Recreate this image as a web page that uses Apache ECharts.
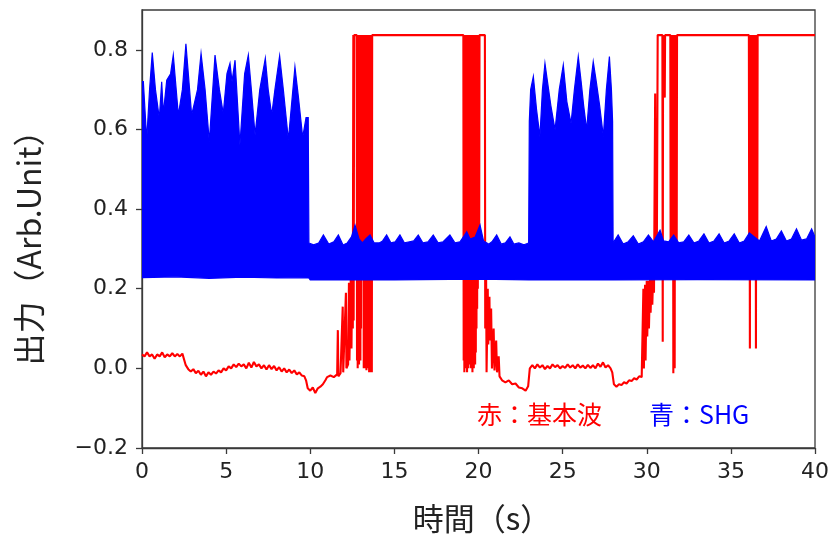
<!DOCTYPE html>
<html>
<head>
<meta charset="utf-8">
<script src="https://cdn.jsdelivr.net/npm/echarts@6/dist/echarts.min.js"></script>
<style>
html,body{margin:0;padding:0;background:#fff;}
#chart{width:833px;height:539px;}
</style>
</head>
<body>
<div id="chart"></div>
<script>
// ---- tick labels ----
const xTicks = [0, 5, 10, 15, 20, 25, 30, 35, 40];
const yTicks = [-0.2, 0.0, 0.2, 0.4, 0.6, 0.8];

// ---- texts ----
const xTitle = '時間（s）';
const yTitle = '出力（Arb.Unit）';
const redLabel = '赤：基本波';
const blueLabel = '青：SHG';

// ---- red: fundamental wave [time s, output] ----
const redSignal = [
[0.0,0.035],[0.15,0.03],[0.3,0.04],[0.45,0.03],[0.6,0.035],[0.75,0.024],[0.9,0.035],[1.05,0.03],[1.2,0.04],[1.35,0.028],
[1.5,0.035],[1.65,0.03],[1.8,0.038],[1.95,0.03],[2.1,0.036],[2.25,0.03],[2.4,0.037],[2.5,0.032],
[2.6,0.008],[2.75,-0.002],[2.9,-0.008],[3.05,-0.002],[3.2,-0.012],[3.35,-0.006],[3.5,-0.016],[3.65,-0.008],[3.8,-0.02],[3.95,-0.01],
[4.1,-0.016],[4.25,-0.008],[4.4,-0.013],[4.55,-0.005],[4.7,-0.01],[4.85,0.0],[5.0,-0.005],[5.15,0.005],[5.3,0.0],[5.45,0.01],
[5.6,0.003],[5.75,0.012],[5.9,0.005],[6.05,0.01],[6.2,0.0],[6.35,0.014],[6.5,0.002],[6.65,0.016],[6.8,0.005],[6.95,0.01],
[7.1,0.0],[7.25,0.008],[7.4,-0.003],[7.55,0.008],[7.7,-0.002],[7.85,0.006],[8.0,-0.005],[8.15,0.003],[8.3,-0.008],[8.45,0.0],
[8.6,-0.01],[8.75,-0.003],[8.9,-0.012],[9.05,-0.005],[9.2,-0.015],[9.35,-0.01],[9.5,-0.018],[9.65,-0.02],[9.75,-0.03],
[9.85,-0.05],[10.0,-0.056],[10.15,-0.048],[10.3,-0.062],[10.45,-0.05],[10.6,-0.046],[10.75,-0.04],[10.9,-0.03],[11.0,-0.022],
[11.2,-0.018],[11.4,-0.022],[11.6,-0.015],[11.64,0.096],[11.67,-0.02],[11.8,-0.012],[11.93,0.155],[11.96,-0.01],[12.05,-0.005],
[12.12,0.19],[12.15,0.0],[12.25,0.01],[12.3,0.215],[12.33,0.02],[12.42,0.26],[12.45,0.05],[12.5,0.3],[12.53,0.1],
[12.56,0.837],[12.58,0.12],[12.61,0.837],[12.76,0.837],
[12.78,0.02],[12.8,0.837],[12.82,0.0],[12.84,0.837],[12.86,0.03],[12.88,0.837],[12.9,0.01],[12.92,0.837],[12.94,0.05],
[12.96,0.837],[12.98,0.02],[13.0,0.837],[13.02,0.1],[13.04,0.837],[13.06,0.29],[13.08,0.77],[13.1,0.29],[13.12,0.77],
[13.14,0.29],[13.16,0.837],[13.18,0.0],[13.2,0.837],[13.22,0.02],[13.24,0.837],[13.26,0.0],[13.28,0.837],[13.3,0.03],
[13.32,0.837],[13.34,-0.005],[13.36,0.837],[13.38,0.02],[13.4,0.837],[13.42,0.0],[13.44,0.837],[13.46,0.01],[13.48,0.837],
[13.5,-0.01],[13.52,0.837],[13.54,0.02],[13.56,0.837],[13.58,-0.01],[13.6,0.837],[13.62,0.01],[13.64,0.837],[13.66,-0.01],
[13.68,0.837],
[19.1,0.837],[19.12,0.02],[19.14,0.837],[19.16,-0.01],[19.18,0.837],[19.2,0.03],[19.22,0.837],[19.24,0.0],[19.26,0.837],
[19.28,0.04],[19.3,0.837],[19.32,-0.01],[19.34,0.837],[19.36,0.02],[19.38,0.837],[19.4,0.0],[19.42,0.837],[19.44,0.05],
[19.46,0.837],[19.48,0.01],[19.5,0.837],[19.52,0.03],[19.54,0.837],[19.56,0.0],[19.58,0.837],[19.6,0.02],[19.62,0.837],
[19.64,-0.01],[19.66,0.837],[19.68,0.03],[19.7,0.837],[19.72,0.0],[19.74,0.837],[19.76,0.02],[19.78,0.837],[19.8,0.01],
[19.82,0.837],[19.84,0.04],[19.86,0.837],[19.88,0.1],[19.9,0.837],[19.92,0.15],[19.94,0.837],[19.96,0.2],[19.98,0.837],
[20.0,0.25],[20.02,0.837],[20.04,0.3],[20.06,0.837],
[20.38,0.837],[20.4,0.1],[20.45,0.25],
[20.48,-0.01],[20.55,0.2],[20.58,0.06],[20.65,0.18],[20.68,0.07],[20.75,0.15],[20.8,0.0],[20.9,0.1],[20.95,-0.005],
[21.05,0.07],[21.1,-0.01],[21.2,0.03],[21.25,-0.02],
[21.4,-0.03],[21.6,-0.035],[21.8,-0.03],[22.0,-0.04],[22.2,-0.038],[22.4,-0.048],[22.6,-0.05],[22.8,-0.056],[22.95,-0.045],
[23.05,0.0],[23.2,0.008],[23.35,0.0],[23.5,0.01],[23.65,0.002],[23.8,0.008],[23.95,-0.002],[24.1,0.006],[24.25,0.0],
[24.4,0.01],[24.55,0.003],[24.7,0.008],[24.85,0.0],[25.0,0.006],[25.15,0.001],[25.3,0.01],[25.45,0.002],[25.6,0.008],
[25.75,0.0],[25.9,0.01],[26.05,0.002],[26.2,0.007],[26.35,0.0],[26.5,0.009],[26.65,0.001],[26.8,0.008],[26.95,0.0],
[27.1,0.012],[27.25,0.004],[27.4,0.015],[27.55,0.002],[27.7,0.008],[27.85,0.0],[27.95,-0.01],
[28.05,-0.04],[28.2,-0.046],[28.35,-0.04],[28.5,-0.042],[28.65,-0.035],[28.8,-0.038],[28.95,-0.03],[29.1,-0.032],
[29.25,-0.025],[29.4,-0.028],[29.55,-0.02],[29.7,-0.022],[29.78,-0.02],
[29.8,0.2],[29.83,0.0],[29.9,0.21],[29.93,0.02],[30.0,0.22],[30.03,0.08],[30.1,0.22],[30.13,0.1],[30.2,0.23],[30.23,0.14],
[30.3,0.25],[30.33,0.16],[30.4,0.26],[30.43,0.19],[30.5,0.69],[30.53,0.25],[30.6,0.3],[30.65,0.837],
[30.93,0.837],[30.95,0.067],[30.97,0.837],[31.05,0.837],[31.07,0.68],[31.09,0.837],
[31.4,0.837],[31.42,0.3],[31.44,0.837],[31.46,0.28],[31.48,0.837],[31.5,0.3],[31.52,0.837],[31.54,0.25],[31.56,0.837],
[31.58,-0.012],[31.6,0.837],[31.62,0.3],[31.64,0.837],[31.66,0.0],[31.68,0.837],[31.7,0.3],[31.72,0.837],[31.74,0.28],
[31.76,0.837],[31.78,0.3],[31.8,0.837],
[36.07,0.837],[36.09,0.3],[36.11,0.837],[36.13,0.05],[36.15,0.837],[36.17,0.3],[36.19,0.837],[36.21,0.64],[36.23,0.837],
[36.25,0.3],[36.27,0.837],[36.29,0.28],[36.31,0.837],[36.33,0.3],[36.35,0.837],[36.37,0.28],[36.39,0.837],[36.41,0.3],
[36.43,0.837],[36.45,0.3],[36.47,0.837],[36.49,0.05],[36.51,0.837],[36.53,0.3],[36.55,0.837],[36.57,0.3],[36.59,0.837],
[40.0,0.837]
];

// ---- blue: SHG, upper envelope of the dense oscillation [time s, output] ----
const blueTop = [
[0.0,0.72],[0.08,0.72],[0.28,0.574],[0.45,0.70],[0.61,0.793],[0.8,0.70],[1.03,0.628],[1.17,0.72],[1.27,0.64],[1.47,0.724],
[1.7,0.74],[1.86,0.787],[2.16,0.636],[2.4,0.70],[2.61,0.815],[2.95,0.636],[3.3,0.70],[3.51,0.791],[3.75,0.70],[4.0,0.569],
[4.34,0.787],[4.6,0.70],[4.83,0.64],[5.05,0.74],[5.23,0.766],[5.35,0.72],[5.53,0.774],[5.82,0.561],[6.1,0.74],[6.32,0.787],
[6.5,0.70],[6.72,0.586],[7.0,0.70],[7.33,0.779],[7.5,0.70],[7.71,0.636],[7.9,0.70],[8.18,0.785],[8.4,0.70],[8.7,0.574],
[9.09,0.757],[9.3,0.68],[9.55,0.58],[9.75,0.63],[9.88,0.63],
[9.92,0.315],[10.2,0.31],[10.5,0.315],[10.78,0.335],[11.1,0.312],[11.4,0.318],[11.67,0.335],[11.95,0.31],[12.2,0.315],
[12.45,0.33],[12.66,0.36],[12.9,0.325],[13.1,0.315],[13.3,0.325],[13.55,0.335],[13.8,0.315],[14.1,0.315],[14.3,0.32],
[14.54,0.335],[14.8,0.315],[15.05,0.318],[15.33,0.335],[15.6,0.315],[15.9,0.318],[16.15,0.32],[16.42,0.335],[16.7,0.315],
[17.0,0.318],[17.31,0.335],[17.6,0.315],[17.9,0.318],[18.3,0.335],[18.6,0.315],[18.9,0.318],[19.1,0.33],[19.3,0.343],
[19.5,0.325],[19.8,0.33],[20.09,0.36],[20.3,0.32],[20.6,0.312],[20.8,0.318],[21.08,0.335],[21.35,0.312],[21.6,0.315],
[21.87,0.33],[22.1,0.312],[22.4,0.315],[22.7,0.31],[22.98,0.315],
[23.02,0.62],[23.1,0.70],[23.26,0.733],[23.45,0.65],[23.65,0.582],[23.8,0.70],[23.95,0.766],[24.1,0.72],[24.3,0.66],
[24.55,0.599],[24.8,0.70],[25.04,0.762],[25.25,0.67],[25.5,0.615],[25.7,0.70],[25.93,0.783],[26.1,0.72],[26.25,0.66],
[26.43,0.599],[26.62,0.70],[26.82,0.77],[27.0,0.72],[27.2,0.66],[27.42,0.582],[27.6,0.70],[27.78,0.783],[27.9,0.70],[27.97,0.62],
[28.0,0.315],[28.3,0.335],[28.6,0.312],[28.9,0.318],[29.2,0.333],[29.5,0.312],[29.8,0.318],[30.1,0.335],[30.4,0.318],
[30.79,0.347],[31.0,0.32],[31.3,0.318],[31.6,0.335],[31.9,0.315],[32.2,0.318],[32.5,0.335],[32.8,0.315],[33.1,0.32],
[33.4,0.338],[33.7,0.315],[34.0,0.32],[34.3,0.338],[34.6,0.315],[34.9,0.32],[35.2,0.338],[35.5,0.315],[35.8,0.32],
[36.1,0.34],[36.4,0.33],[36.7,0.32],[37.1,0.356],[37.4,0.32],[37.7,0.325],[38.0,0.345],[38.3,0.32],[38.6,0.325],
[38.9,0.35],[39.2,0.322],[39.5,0.325],[39.8,0.35],[40.0,0.33]
];

// ---- blue: SHG, lower envelope (floor) [time s, output] ----
const blueFloor = [
[0.0,0.228],[2.0,0.23],[4.0,0.226],[6.0,0.229],[8.0,0.227],[9.9,0.228],[10.0,0.222],[15.0,0.222],[20.0,0.224],
[23.0,0.222],[28.0,0.222],[33.0,0.223],[40.0,0.222]
];

const tickFont = 'DejaVu Sans';
const cjkFont = '"Noto Sans CJK JP", "Noto Sans", sans-serif';
const frameColor = '#3a3a3a';

const chart = echarts.init(document.getElementById('chart'), null, {renderer: 'canvas'});

function fmtY(v) {
  const s = Math.abs(v).toFixed(1);
  return v < -1e-9 ? '\u2212' + s : s;
}

const option = {
  animation: false,
  backgroundColor: '#fff',
  grid: {
    left: 142, right: 18, top: 10, bottom: 91,
    show: true, borderColor: frameColor, borderWidth: 1.3, backgroundColor: 'transparent'
  },
  xAxis: {
    type: 'value', min: 0, max: 40, interval: 5,
    axisLine: {show: true, onZero: false, lineStyle: {color: frameColor, width: 1.3}},
    axisTick: {show: true, length: 6, lineStyle: {color: frameColor, width: 1.3}, customValues: xTicks},
    axisLabel: {show: true, customValues: xTicks, fontFamily: tickFont, fontSize: 22, color: '#222', margin: 13},
    splitLine: {show: false}
  },
  yAxis: {
    type: 'value', min: -0.2, max: 0.9,
    axisLine: {show: true, onZero: false, lineStyle: {color: frameColor, width: 1.3}},
    axisTick: {show: true, length: 6, lineStyle: {color: frameColor, width: 1.3}, customValues: yTicks},
    axisLabel: {show: true, customValues: yTicks, fontFamily: tickFont, fontSize: 22, color: '#222', margin: 14,
      formatter: fmtY},
    splitLine: {show: false}
  },
  graphic: [
    {type: 'text', x: 482, y: 518, z: 10,
      style: {text: xTitle, font: '31px ' + cjkFont, fill: '#222', textAlign: 'center', textVerticalAlign: 'middle'}},
    {type: 'text', x: 29, y: 240, rotation: Math.PI / 2, z: 10,
      style: {text: yTitle, font: '32px ' + cjkFont, fill: '#222', textAlign: 'center', textVerticalAlign: 'middle'}},
    {type: 'text', x: 477, y: 414, z: 10,
      style: {text: redLabel, font: '25px ' + cjkFont, fill: '#ff0000', textAlign: 'left', textVerticalAlign: 'middle'}},
    {type: 'text', x: 649, y: 414, z: 10,
      style: {text: blueLabel, font: '25px ' + cjkFont, fill: '#0000ff', textAlign: 'left', textVerticalAlign: 'middle'}}
  ],
  series: [
    {
      name: 'fundamental', type: 'line', data: redSignal, z: 2,
      showSymbol: false, symbol: 'none', sampling: null, clip: true,
      lineStyle: {color: '#ff0000', width: 2.1}
    },
    {
      name: 'SHG', type: 'custom', coordinateSystem: 'cartesian2d', z: 3, silent: true, clip: true,
      data: [[0, 0]],
      renderItem: function (params, api) {
        const pts = [];
        for (let i = 0; i < blueTop.length; i++) pts.push(api.coord(blueTop[i]));
        for (let i = blueFloor.length - 1; i >= 0; i--) pts.push(api.coord(blueFloor[i]));
        return {type: 'polygon', shape: {points: pts},
          style: {fill: '#0000ff', stroke: '#0000ff', lineWidth: 1.2}};
      }
    }
  ]
};
chart.setOption(option);
</script>
</body>
</html>
